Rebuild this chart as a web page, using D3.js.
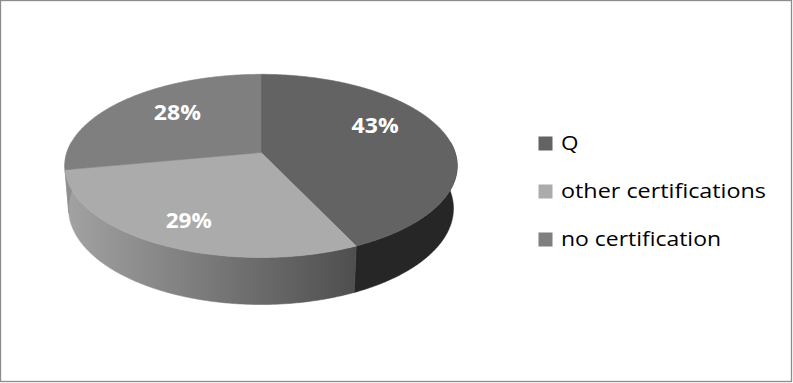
<!DOCTYPE html>
<html>
<head>
<meta charset="utf-8">
<script src="https://cdn.jsdelivr.net/npm/d3@7"></script>
<style>
  html, body { margin: 0; padding: 0; background: #fff; }
  svg { display: block; }
</style>
</head>
<body>
<svg id="chart" width="793" height="383"></svg>
<script>
// Share of respondents by certification status
const categories = ["Q", "other certifications", "no certification"];
const shares = [43, 29, 28];
const percentLabels = ["43%", "29%", "28%"];

// Styling
const topColors = ["#636363", "#ababab", "#7f7f7f"];
const legendColors = ["#636363", "#ababab", "#7f7f7f"];
const fontFamily = "'Open Sans', 'Noto Sans', sans-serif";

const W = 793, H = 383;
const svg = d3.select("#chart");

// frame
svg.append("rect")
  .attr("x", 0.5).attr("y", 0.5)
  .attr("width", W - 2).attr("height", H - 2)
  .attr("fill", "#fff")
  .attr("stroke", "#8c8c8c")
  .attr("stroke-width", 1.3);

// 3D perspective setup: unit-radius disc, tilted toward the viewer
const cx = 261, cy = 152.5;          // screen position of the pie's centre
const tilt = 27.5 * Math.PI / 180;
const sa = Math.sin(tilt), ca = Math.cos(tilt);
const camDist = 6.06;                // camera distance (disc radii)
const focal = 1176;                  // focal length (px)
const thickness = 0.25;              // disc height (disc radii)

function project(theta, r, yLevel) {
  const X = r * Math.sin(theta);
  const Z = r * Math.cos(theta);     // positive = away from viewer
  const v = Z * sa + yLevel * ca;
  const w = Z * ca - yLevel * sa;
  const s = focal / (camDist + w);
  return [cx + X * s, cy - v * s];
}

const pie = d3.pie().sort(null).value(d => d);
const arcs = pie(shares);

function arcPoints(a0, a1, r, yLevel) {
  const n = Math.max(2, Math.ceil((a1 - a0) / 0.01));
  const pts = [];
  for (let i = 0; i <= n; i++) pts.push(project(a0 + (a1 - a0) * i / n, r, yLevel));
  return pts;
}

const line = d3.line();
const defs = svg.append("defs");

// horizontal shading on the outer wall
function wallGradient(id, light, dark) {
  const g = defs.append("linearGradient")
    .attr("id", id)
    .attr("gradientUnits", "userSpaceOnUse")
    .attr("x1", 64).attr("y1", 0)
    .attr("x2", 358).attr("y2", 0);
  g.append("stop").attr("offset", 0).attr("stop-color", light);
  g.append("stop").attr("offset", 1).attr("stop-color", dark);
  return `url(#${id})`;
}
const wallFills = [
  "#262626",
  wallGradient("wall1", "#a3a3a3", "#4e4e4e"),
  wallGradient("wall2", "#8f8f8f", "#7a7a7a")
];

// outer walls (front-facing part only)
const frontMin = Math.PI / 2 - 0.12, frontMax = 3 * Math.PI / 2 + 0.12;
const gWalls = svg.append("g");
arcs.forEach((a, i) => {
  const a0 = Math.max(a.startAngle, frontMin);
  const a1 = Math.min(a.endAngle, frontMax);
  if (a1 <= a0) return;
  const top = arcPoints(a0, a1, 1, 0);
  const bottom = arcPoints(a0, a1, 1, -thickness).reverse();
  gWalls.append("path")
    .attr("d", line(top.concat(bottom)) + "Z")
    .attr("fill", wallFills[i])
    .attr("stroke", wallFills[i])
    .attr("stroke-width", 0.6)
    .attr("stroke-linejoin", "round");
});

// top faces
const gTops = svg.append("g");
arcs.forEach((a, i) => {
  const pts = [project(0, 0, 0)].concat(arcPoints(a.startAngle, a.endAngle, 1, 0));
  gTops.append("path")
    .attr("d", line(pts) + "Z")
    .attr("fill", topColors[i])
    .attr("stroke", topColors[i])
    .attr("stroke-width", 0.6)
    .attr("stroke-linejoin", "round");
});

// percentage labels, placed from each slice's mid angle
const labelRadius = [0.62, 0.75, 0.62];
const labelNudge = [[-1, -16], [1, 1], [4, -7]];
const labelWidth = [47, 46, 47];
arcs.forEach((a, i) => {
  const mid = (a.startAngle + a.endAngle) / 2;
  const [px, py] = project(mid, labelRadius[i], 0);
  svg.append("text")
    .attr("x", px + labelNudge[i][0])
    .attr("y", py + labelNudge[i][1])
    .attr("text-anchor", "middle")
    .attr("dominant-baseline", "central")
    .attr("font-family", fontFamily)
    .attr("font-weight", "bold")
    .attr("font-size", 21)
    .attr("fill", "#ffffff")
    .attr("textLength", labelWidth[i])
    .attr("lengthAdjust", "spacingAndGlyphs")
    .text(percentLabels[i]);
});

// legend
const legendX = 538.5, legendTop = 149.5, legendStep = 48;
const legendWidths = [17.5, 205, 160];
const gLegend = svg.append("g");
categories.forEach((c, i) => {
  const base = legendTop + i * legendStep;
  gLegend.append("rect")
    .attr("x", legendX).attr("y", base - 13)
    .attr("width", 14).attr("height", 14)
    .attr("fill", legendColors[i]);
  gLegend.append("text")
    .attr("x", 561).attr("y", base)
    .attr("font-family", fontFamily)
    .attr("font-size", 19.5)
    .attr("fill", "#000")
    .attr("textLength", legendWidths[i])
    .attr("lengthAdjust", "spacingAndGlyphs")
    .text(c);
});
</script>
</body>
</html>
